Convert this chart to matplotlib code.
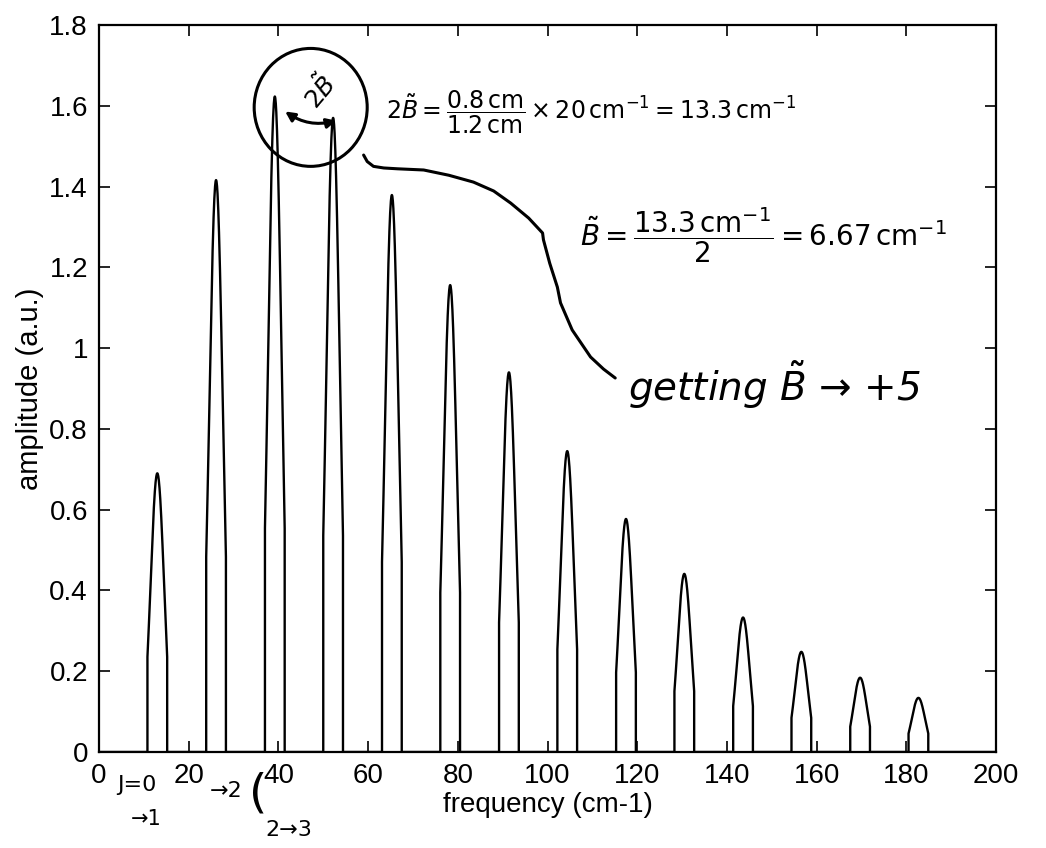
import numpy as np
import matplotlib
matplotlib.use("Agg")
import matplotlib.pyplot as plt
from matplotlib.patches import Ellipse, FancyArrowPatch

# ---- data ----
peak_centers = [13.0, 26.1, 39.2, 52.2, 65.3, 78.3, 91.4, 104.4, 117.5,
                130.5, 143.6, 156.6, 169.7, 182.7]
peak_heights = [0.69, 1.416, 1.623, 1.570, 1.379, 1.156, 0.94, 0.745,
                0.577, 0.441, 0.333, 0.248, 0.184, 0.134]
x_ticks = [0, 20, 40, 60, 80, 100, 120, 140, 160, 180, 200]
y_ticks = [0, 0.2, 0.4, 0.6, 0.8, 1.0, 1.2, 1.4, 1.6, 1.8]
y_tick_labels = ["0", "0.2", "0.4", "0.6", "0.8", "1", "1.2", "1.4", "1.6", "1.8"]

# line-shape style (Gaussian profile, truncated window)
SIGMA = 1.5
HALF_WIN = 2.2

plt.rcParams["font.family"] = ["Liberation Sans", "DejaVu Sans"]

W, H = 1046, 848
fig = plt.figure(figsize=(W / 100, H / 100), dpi=100)
ax = fig.add_axes([99 / W, 1 - 752 / H, (996 - 99) / W, (752 - 25) / H])

# build spectrum trace from the peak list
xs = [0.0]
ys = [0.0]
for c, h in zip(peak_centers, peak_heights):
    seg = np.linspace(c - HALF_WIN, c + HALF_WIN, 81)
    prof = h * np.exp(-((seg - c) ** 2) / (2 * SIGMA ** 2))
    xs += [c - HALF_WIN] + list(seg) + [c + HALF_WIN]
    ys += [0.0] + list(prof) + [0.0]
xs.append(200.0)
ys.append(0.0)
ax.plot(xs, ys, color="black", lw=1.7)

ax.set_xlim(0, 200)
ax.set_ylim(0, 1.8)
ax.set_xticks(x_ticks)
ax.set_xticklabels([str(t) for t in x_ticks])
ax.set_yticks(y_ticks)
ax.set_yticklabels(y_tick_labels)
ax.tick_params(direction="in", length=8, width=1.2, top=True, right=True,
               labelsize=20, pad=8)
for s in ax.spines.values():
    s.set_linewidth(1.6)
ax.set_xlabel("frequency (cm-1)", fontsize=20, labelpad=2)
ax.set_ylabel("amplitude (a.u.)", fontsize=21, labelpad=4)

# ---- handwritten annotations ----
hw = dict(color="black", family="DejaVu Sans")
lw_hw = 2.2

# circle around the two tallest lines
ax.add_patch(Ellipse((47.2, 1.596), 25.2, 0.292, fill=False, lw=lw_hw,
                     color="black", clip_on=False))
# 2B arrow between peaks
ax.add_patch(FancyArrowPatch((41.0, 1.590), (53.5, 1.565), arrowstyle="<|-|>",
                             mutation_scale=14, lw=lw_hw, color="black",
                             connectionstyle="arc3,rad=0.25"))
ax.text(49.2, 1.635, r"$2\tilde{B}$", fontsize=18, rotation=50,
        ha="center", va="center", **hw)

def fpx(px, py):
    return px / W, 1 - py / H

fig.text(*fpx(386, 112),
         r"$2\tilde{B} = \dfrac{0.8\,\mathrm{cm}}{1.2\,\mathrm{cm}} \times 20\,\mathrm{cm}^{-1} = 13.3\,\mathrm{cm}^{-1}$",
         fontsize=17, ha="left", va="center", **hw)
fig.text(*fpx(580, 235),
         r"$\tilde{B} = \dfrac{13.3\,\mathrm{cm}^{-1}}{2} = 6.67\,\mathrm{cm}^{-1}$",
         fontsize=20, ha="left", va="center", **hw)
fig.text(*fpx(628, 385), r"getting $\tilde{B}$ → +5", fontsize=28,
         ha="left", va="center", style="italic", **hw)

# connecting curve from the circle to the note
cx = [59.0, 59.8, 61.2, 63.5, 66.5, 72.4, 78.0, 83.5, 88.0, 91.8, 95.8, 98.9,
      99.1, 100.5, 102.2, 102.9, 105.5, 109.6, 112.5, 115.1]
cy = [1.478, 1.462, 1.450, 1.446, 1.444, 1.441, 1.428, 1.411, 1.389, 1.359,
      1.322, 1.285, 1.268, 1.21, 1.151, 1.112, 1.045, 0.978, 0.948, 0.926]
ax.plot(cx, cy, color="black", lw=lw_hw, clip_on=False, solid_capstyle="round")

# labels below the axis
ax.text(8.5, -0.082, "J=0", fontsize=16, ha="center", va="center",
        clip_on=False, **hw)
ax.text(10.5, -0.166, "→1", fontsize=15, ha="center", va="center",
        clip_on=False, **hw)
ax.text(28.3, -0.097, "→2", fontsize=16, ha="center", va="center",
        clip_on=False, **hw)
ax.text(35.4, -0.105, "(", fontsize=34, ha="center", va="center",
        clip_on=False, **hw)
ax.text(42.3, -0.193, "2→3", fontsize=16, ha="center", va="center",
        clip_on=False, **hw)

fig.savefig("out.png", dpi=100)
